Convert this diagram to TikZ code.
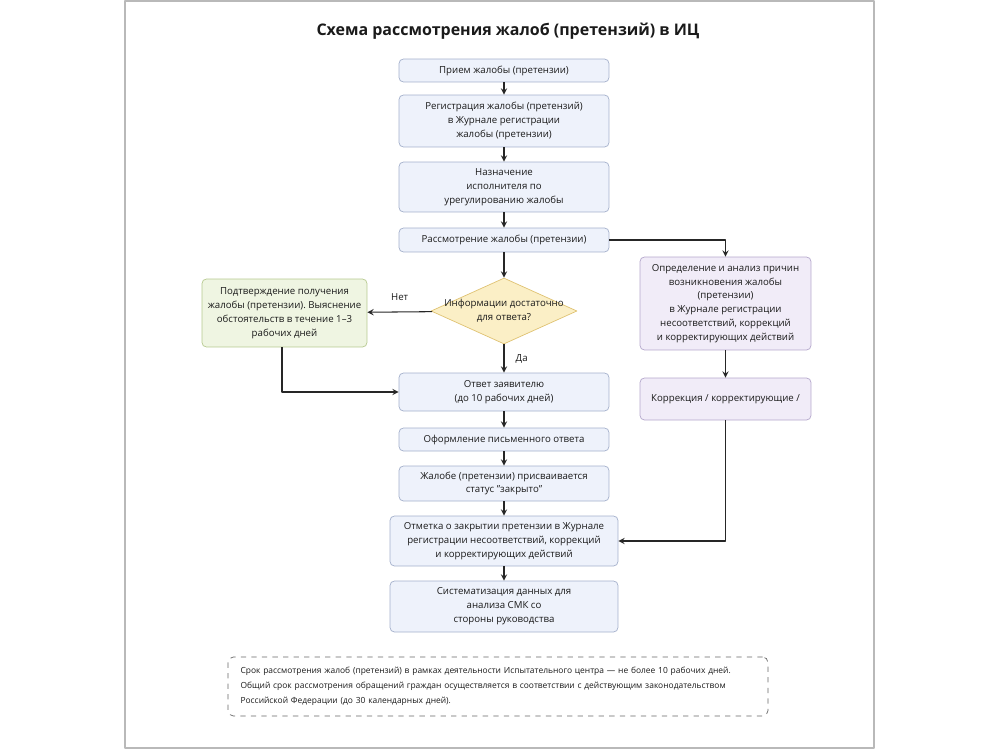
\documentclass[tikz,border=0pt]{standalone}
\usepackage{fontspec}
\setmainfont{Open Sans}
\usetikzlibrary{shapes.geometric}
\frenchspacing
\definecolor{blueFill}{HTML}{EEF2FB}
\definecolor{blueLine}{HTML}{A4B0CB}
\definecolor{greenFill}{HTML}{EFF5E2}
\definecolor{greenLine}{HTML}{B6C98F}
\definecolor{yellowFill}{HTML}{FBEFC6}
\definecolor{yellowLine}{HTML}{DFC272}
\definecolor{purpleFill}{HTML}{F1ECF8}
\definecolor{purpleLine}{HTML}{B4A7CB}
\definecolor{textCol}{HTML}{1A1A1A}
\begin{document}
\begin{tikzpicture}[x=0.02cm,y=-0.02cm,line join=round,>=stealth,font=\fontsize{5.5}{7.9}\selectfont,text=textCol]
    \tikzset{box/.style={draw=blueLine,fill=blueFill,rounded corners=2.5pt,align=center,inner sep=1pt,minimum width=4.2cm},
        greenbox/.style={box,draw=greenLine,fill=greenFill,minimum width=3.3cm,minimum height=1.36cm},
        purplebox/.style={box,draw=purpleLine,fill=purpleFill,minimum width=3.42cm},
        dia/.style={diamond,draw=yellowLine,fill=yellowFill,minimum width=2.92cm,minimum height=1.32cm,inner sep=0pt},
        link/.style={->,draw=black!85,semithick}}
    \useasboundingbox (0,0) rectangle (1000,750);
    \draw[gray!55,line width=0.8pt] (125,1) rectangle (874,748);
    \node[font=\fontsize{9.1}{11}\selectfont\bfseries] (title) at (508,31) {Схема рассмотрения жалоб (претензий) в ИЦ};
    % main column
    \node[box,minimum height=0.46cm] (priem) at (504,70.5) {Прием жалобы (претензии)};
    \node[box,minimum height=1.04cm] (reg) at (504,121) {Регистрация жалобы (претензий)\\в Журнале регистрации\\жалобы (претензии)};
    \node[box,minimum height=1cm] (naznach) at (504,187) {Назначение\\исполнителя по\\урегулированию жалобы};
    \node[box,minimum height=0.48cm] (rassm) at (504,240) {Рассмотрение жалобы (претензии)};
    \node[dia] (info) at (504,311) {};
    \node[align=center] (infotext) at (info) {Информации достаточно\\для ответа?};
    \node[box,minimum height=0.76cm] (otvet) at (504,392) {Ответ заявителю\\(до 10 рабочих дней)};
    \node[box,minimum height=0.46cm] (oform) at (504,439.5) {Оформление письменного ответа};
    \node[box,minimum height=0.7cm] (status) at (504,483.5) {Жалобе (претензии) присваивается\\статус "закрыто"};
    \node[box,minimum width=4.56cm,minimum height=1cm] (otmetka) at (504,541) {Отметка о закрытии претензии в Журнале\\регистрации несоответствий, коррекций\\и корректирующих действий};
    \node[box,minimum width=4.56cm,minimum height=1.02cm] (sistem) at (504,606.5) {Систематизация данных для\\анализа СМК со\\стороны руководства};
    % side boxes
    \node[greenbox] (podtv) at (284.5,313) {Подтверждение получения\\жалобы (претензии). Выяснение\\обстоятельств в течение 1--3\\рабочих дней};
    \node[purplebox,minimum height=1.86cm] (prich) at (725.5,303.5) {Определение и анализ причин\\возникновения жалобы\\(претензии)\\в Журнале регистрации\\несоответствий, коррекций\\и корректирующих действий};
    \node[purplebox,minimum height=0.84cm] (korr) at (725.5,399) {Коррекция / корректирующие /};
    % connectors
    \draw[link] (priem) -- (reg);
    \draw[link] (reg) -- (naznach);
    \draw[link] (naznach) -- (rassm);
    \draw[link] (rassm) -- (info);
    \draw[link] (rassm.east) -| (prich.north);
    \draw[link] (info) -- node[right,xshift=3pt] {Да} (otvet);
    \draw[link] (info) -- node[above,pos=0.5,yshift=3pt] {Нет} (podtv);
    \draw[link] ([xshift=-0.05cm]podtv.south) |- (otvet.west);
    \draw[link] (otvet) -- (oform);
    \draw[link] (oform) -- (status);
    \draw[link] (status) -- (otmetka);
    \draw[link] (otmetka) -- (sistem);
    \draw[link] (prich) -- (korr);
    \draw[link] (korr.south) |- (otmetka.east);
    % note
    \node[draw=black!60,dashed,rounded corners=3pt,minimum width=10.8cm,minimum height=1.18cm,align=left,text width=10.3cm,font=\fontsize{4.8}{8.5}\selectfont] (note) at (498,686.5) {Срок рассмотрения жалоб (претензий) в рамках деятельности Испытательного центра — не более 10 рабочих дней.\\Общий срок рассмотрения обращений граждан осуществляется в соответствии с действующим законодательством\\Российской Федерации (до 30 календарных дней).};
\end{tikzpicture}
\end{document}
